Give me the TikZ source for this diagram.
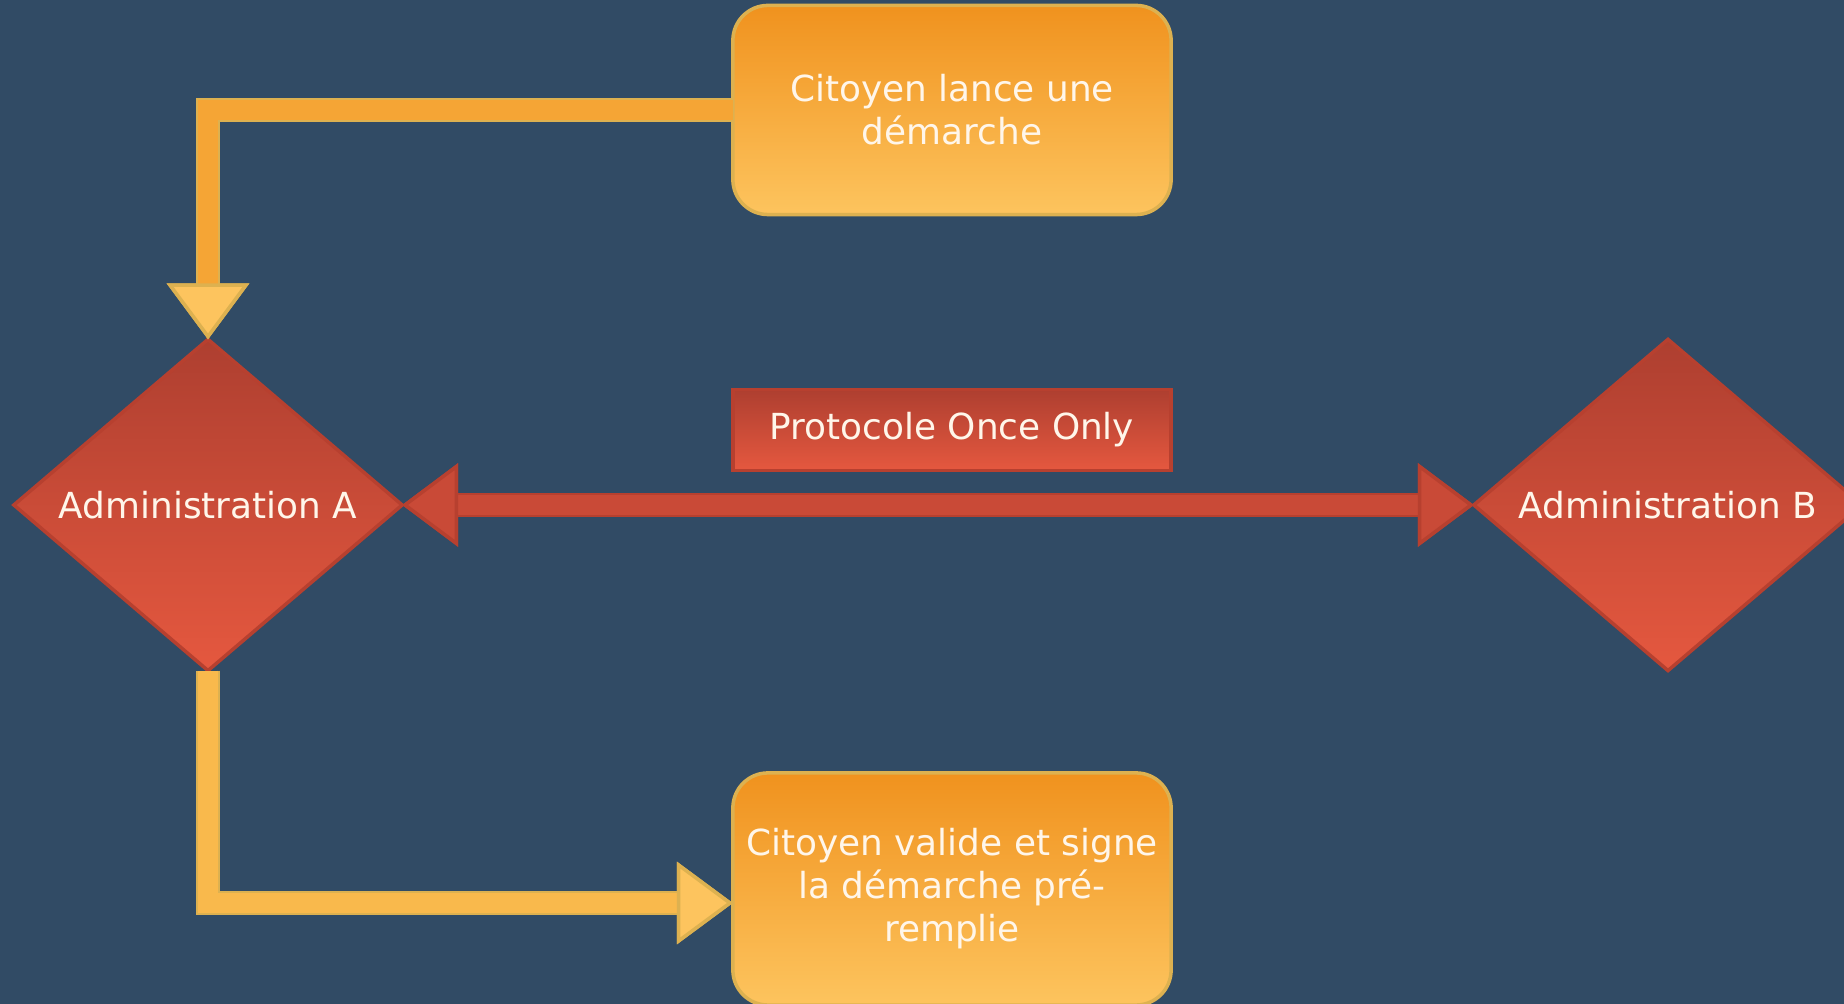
\documentclass[tikz,border=0pt]{standalone}
\usepackage{fontspec}
\setmainfont{DejaVu Sans}
\usepackage{xcolor}
\usetikzlibrary{arrows.meta,shapes.geometric}
\definecolor{fond}{HTML}{314B65}
\definecolor{orangeHaut}{HTML}{F0921E}
\definecolor{orangeBas}{HTML}{FDC45E}
\definecolor{orangeTrait}{HTML}{F5A535}
\definecolor{orangeTraitB}{HTML}{F9B94C}
\definecolor{bordOrange}{HTML}{DDB150}
\definecolor{rougeHaut}{HTML}{AE3F30}
\definecolor{rougeBas}{HTML}{E5583F}
\definecolor{rougeFleche}{HTML}{C94A37}
\definecolor{bordRouge}{HTML}{B7402F}
\definecolor{texte}{HTML}{FFF6EA}

\begin{document}
\begin{tikzpicture}[x=0.01cm,y=-0.01cm,
		nodes={font=\fontsize{10.2}{12.2}\selectfont,text=texte,align=center},
		etape/.style={rectangle,rounded corners=0.35cm,draw=bordOrange,line width=1pt,
			top color=orangeHaut,bottom color=orangeBas,minimum width=4.38cm,
			inner sep=0pt,outer sep=0pt},
		admin/.style={diamond,aspect=1.17,draw=bordRouge,line width=1pt,
			top color=rougeHaut,bottom color=rougeBas,minimum width=3.88cm,
			minimum height=3.31cm,inner sep=0pt,outer sep=0pt},
		protocole/.style={rectangle,draw=bordRouge,line width=1pt,
			top color=rougeHaut,bottom color=rougeBas,minimum width=4.38cm,
			minimum height=0.81cm,inner sep=0pt,outer sep=0pt},
		flux/.style={line width=0.2cm,draw=#1,
			preaction={draw=bordOrange,line width=0.24cm},
			-{Triangle[width=0.82cm,length=0.56cm,line width=1pt,color=bordOrange,fill=orangeBas]}},
		echange/.style={line width=0.2cm,draw=rougeFleche,
			preaction={draw=bordRouge,line width=0.24cm},
			{Triangle[width=0.83cm,length=0.56cm,line width=1pt,color=bordRouge,fill=rougeFleche]}-{Triangle[width=0.83cm,length=0.56cm,line width=1pt,color=bordRouge,fill=rougeFleche]}}]
	\fill[fond] (0,0) rectangle (1844,1004);
	\useasboundingbox (0,0) rectangle (1844,1004);
	\node[etape,minimum height=2.09cm] (lance) at (952,110) {Citoyen lance une\\démarche};
	\node[protocole] (once) at (952,430) {Protocole Once Only};
	\node[admin] (adminA) at (208,505) {Administration A};
	\node[admin] (adminB) at (1668,505) {Administration B};
	\node[etape,minimum height=2.32cm] (valide) at (952,889) {Citoyen valide et signe\\la démarche pré-\\remplie};
	\coordinate (entree) at ([yshift=-0.14cm]valide.west);
	\draw[flux=orangeTrait] (lance.west) -| (adminA.north);
	\draw[flux=orangeTraitB] (adminA.south) |- (entree);
	\draw[echange] (adminA.east) -- (adminB.west);
\end{tikzpicture}
\end{document}
